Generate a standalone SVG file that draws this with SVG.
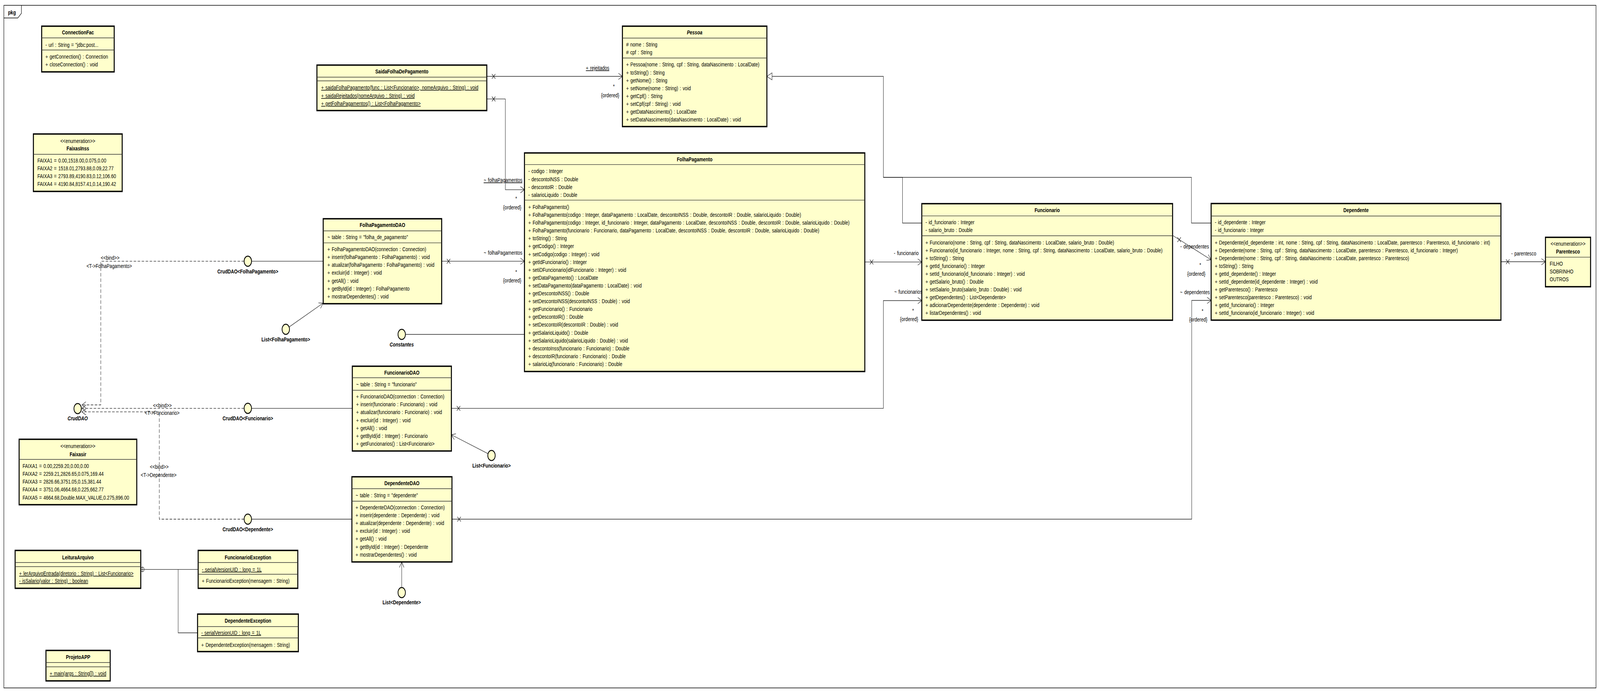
<svg xmlns="http://www.w3.org/2000/svg" xmlns:xlink="http://www.w3.org/1999/xlink" width="5604" height="1774" viewBox="0 0 5604 1774" preserveAspectRatio="none" style="width:100vw;height:100vh;display:block">
<style>
.box{fill:#FFFFCC;stroke:#000;stroke-width:3.5}
.sep{stroke:#333;stroke-width:1.3}
.t{font-family:"Liberation Sans",Arial,sans-serif;font-size:15.5px;word-spacing:1.5px;fill:#000}
.b{font-weight:bold}
.i{font-style:italic}
.c{text-anchor:middle}
.e{text-anchor:end}
.u{text-decoration:underline}
.ln{fill:none;stroke:#222;stroke-width:1.3}
.dash{stroke-dasharray:9 5}
.lol{fill:#FFFFCC;stroke:#000;stroke-width:2.5}
.frame{fill:none;stroke:#000;stroke-width:1.5}
</style>
<defs>
<marker id="arr" markerWidth="20" markerHeight="20" viewBox="-16 -10 20 20" refX="0" refY="0" orient="auto" markerUnits="userSpaceOnUse"><path d="M-14,-8 L0,0 L-14,8" fill="none" stroke="#222" stroke-width="1.3"/></marker>
<path id="xm" d="M-6,-6 L6,6 M-6,6 L6,-6" fill="none" stroke="#222" stroke-width="1.5"/>
</defs>
<rect x="0" y="0" width="5604" height="1774" fill="#fff"/>
<g id="frame">
<rect class="frame" x="13.5" y="13.6" width="5576.5" height="1747.4"/>
<path class="frame" d="M13.5,46 H62.5 L75,34 V13.6"/>
<text class="t b" x="28" y="37">pkg</text>
</g>

<g id="connectors">
<path class="ln" d="M1705,195.5 H2180" marker-end="url(#arr)"/>
<use xlink:href="#xm" x="1729" y="195.5"/>
<text class="t u" x="2052" y="179">+ rejeitados</text>
<text class="t" x="2147" y="226">*</text>
<text class="t e" x="2169" y="249">{ordered}</text>
<path class="ln" d="M1705,253.4 H1770 V485.6 H1837" marker-end="url(#arr)"/>
<use xlink:href="#xm" x="1729" y="253.4"/>
<text class="t u" x="1694" y="466">~ folhaPagamentos</text>
<text class="t" x="1805" y="513">*</text>
<text class="t e" x="1826" y="536">{ordered}</text>
<path class="ln" d="M1547,668.7 H1837" marker-end="url(#arr)"/>
<use xlink:href="#xm" x="1571" y="668.7"/>
<text class="t" x="1694" y="652">~ folhaPagamentos</text>
<text class="t" x="1805" y="701">*</text>
<text class="t e" x="1826" y="723">{ordered}</text>
<path class="ln" d="M1421,856 H1837"/>
<path class="ln" d="M881,668.7 H1132"/>
<path class="ln dash" d="M855,668.7 H353 V1036.5 H287" marker-end="url(#arr)"/>
<text class="t" x="353" y="665">&lt;&lt;bind&gt;&gt;</text>
<text class="t" x="303" y="686">&lt;T-&gt;FolhaPagamento&gt;</text>
<path class="ln" d="M1012.6,837.1 L1131.5,776" marker-end="url(#arr)"/>
<path class="ln" d="M881,1045.3 H1234"/>
<path class="ln dash" d="M855,1045.3 H287" marker-end="url(#arr)"/>
<text class="t" x="536" y="1043">&lt;&lt;bind&gt;&gt;</text>
<text class="t" x="507" y="1062">&lt;T-&gt;Funcionario&gt;</text>
<path class="ln" d="M1581,1045.3 H3094 V769.5 H3228.6" marker-end="url(#arr)"/>
<use xlink:href="#xm" x="1606" y="1045.3"/>
<text class="t" x="3132" y="752">~ funcionarios</text>
<text class="t" x="3195" y="800">*</text>
<text class="t e" x="3216" y="822">{ordered}</text>
<path class="ln" d="M1709.3,1161.4 L1581,1113" marker-end="url(#arr)"/>
<path class="ln" d="M881,1329 H1232.5"/>
<path class="ln dash" d="M855,1329 H558 V1054.4 H287" marker-end="url(#arr)"/>
<text class="t" x="525" y="1200">&lt;&lt;bind&gt;&gt;</text>
<text class="t" x="493" y="1221">&lt;T-&gt;Dependente&gt;</text>
<path class="ln" d="M1583,1329 H4174 V769 H4242" marker-end="url(#arr)"/>
<use xlink:href="#xm" x="1608" y="1329"/>
<text class="t" x="4133" y="752.7">~ dependentes</text>
<text class="t" x="4209" y="800.7">*</text>
<text class="t c" x="4197" y="822.7">{ordered}</text>
<path class="ln" d="M1407,1504 V1438.6" marker-end="url(#arr)"/>
<path class="ln" d="M3029,670.7 H3228.6" marker-end="url(#arr)"/>
<use xlink:href="#xm" x="3052.7" y="670.7"/>
<text class="t e" x="3217.6" y="653">- funcionario</text>
<path class="ln" d="M4108,603 L4241.7,665" marker-end="url(#arr)"/>
<use xlink:href="#xm" x="4130" y="613.5"/>
<text class="t" x="4134" y="635.7">- dependentes</text>
<text class="t" x="4201" y="683">*</text>
<text class="t c" x="4190" y="706">{ordered}</text>
<path class="ln" d="M5257,670 H5413" marker-end="url(#arr)"/>
<use xlink:href="#xm" x="5281" y="670"/>
<text class="t" x="5293" y="653.6">- parentesco</text>
<path class="ln" d="M3228.6,571 H3161 V454 H3094 V195.5 H2704"/>
<path class="ln" d="M4242,571 H4173 V454 H3094"/>
<polygon points="2686,195.5 2704,186.5 2704,204.5" fill="#fff" stroke="#222" stroke-width="1.3"/>
<path class="ln" d="M505,1457.6 H694 M624,1457.6 V1620 H692"/>
<circle cx="499" cy="1457.6" r="6" fill="#fff" stroke="#222" stroke-width="1.3"/>
<path class="ln" d="M493,1457.6 H505 M499,1451.6 V1463.6"/>
</g>

<g id="ConnectionFac">
<rect class="box" x="146" y="67" width="254" height="117"/>
<path class="sep" d="M146,97 H400 M146,128 H400"/>
<text class="t b c" x="273" y="88">ConnectionFac</text>
<text class="t" x="159" y="120">- url : String = "jdbc:post...</text>
<text class="t" x="159" y="150">+ getConnection() : Connection</text>
<text class="t" x="159" y="170">+ closeConnection() : void</text>
</g>

<g id="FaixasInss">
<rect class="box" x="117" y="343" width="311" height="147"/>
<path class="sep" d="M117,395 H428"/>
<text class="t c" x="272.5" y="366">&lt;&lt;enumeration&gt;&gt;</text>
<text class="t b c" x="272.5" y="385">FaixasInss</text>
<text class="t" x="131" y="416">FAIXA1 = 0.00,1518.00,0.075,0.00</text>
<text class="t" x="131" y="436">FAIXA2 = 1518.01,2793.88,0.09,22.77</text>
<text class="t" x="131" y="456">FAIXA3 = 2793.89,4190.83,0.12,106.60</text>
<text class="t" x="131" y="476">FAIXA4 = 4190.84,8157.41,0.14,190.42</text>
</g>

<g id="Faixasir">
<rect class="box" x="67" y="1124.5" width="412" height="167.5"/>
<path class="sep" d="M67,1176 H479"/>
<text class="t c" x="273" y="1147.5">&lt;&lt;enumeration&gt;&gt;</text>
<text class="t b c" x="273" y="1168">Faixasir</text>
<text class="t" x="79" y="1198">FAIXA1 = 0.00,2259.20,0.00,0.00</text>
<text class="t" x="79" y="1218">FAIXA2 = 2259.21,2826.65,0.075,169.44</text>
<text class="t" x="79" y="1238">FAIXA3 = 2826.66,3751.05,0.15,381.44</text>
<text class="t" x="79" y="1258">FAIXA4 = 3751.06,4664.68,0.225,662.77</text>
<text class="t" x="79" y="1279">FAIXA5 = 4664.68,Double.MAX_VALUE,0.275,896.00</text>
</g>

<g id="CrudDAO">
<circle class="lol" cx="272" cy="1046" r="13"/>
<text class="t b i c" x="272" y="1076">CrudDAO</text>
</g>

<g id="LeituraArquivo">
<rect class="box" x="53" y="1409" width="440" height="97"/>
<path class="sep" d="M53,1440 H493 M53,1450.5 H493"/>
<text class="t b c" x="273" y="1431.6">LeituraArquivo</text>
<text class="t u" x="67" y="1473">+ lerArquivoEntrada(diretorio : String) : List&lt;Funcionario&gt;</text>
<text class="t u" x="67" y="1492">- isSalario(valor : String) : boolean</text>
</g>

<g id="FuncionarioException">
<rect class="box" x="694" y="1409" width="349" height="97"/>
<path class="sep" d="M694,1440 H1043 M694,1470 H1043"/>
<text class="t b c" x="868.5" y="1431.6">FuncionarioException</text>
<text class="t u" x="707" y="1462.6">- serialVersionUID : long = 1L</text>
<text class="t" x="707" y="1492">+ FuncionarioException(mensagem : String)</text>
</g>

<g id="DependenteException">
<rect class="box" x="692" y="1572" width="353" height="96"/>
<path class="sep" d="M692,1604 H1045 M692,1633 H1045"/>
<text class="t b c" x="868.5" y="1594.5">DependenteException</text>
<text class="t u" x="705" y="1625">- serialVersionUID : long = 1L</text>
<text class="t" x="705" y="1656">+ DependenteException(mensagem : String)</text>
</g>

<g id="ProjetoAPP">
<rect class="box" x="161" y="1665" width="225" height="78"/>
<path class="sep" d="M161,1696 H386 M161,1707 H386"/>
<text class="t b c" x="273.5" y="1687">ProjetoAPP</text>
<text class="t u" x="174" y="1729">+ main(args : String[]) : void</text>
</g>

<g id="SaidaFolhaDePagamento">
<rect class="box" x="1110" y="166.6" width="595" height="116.4"/>
<path class="sep" d="M1110,197.5 H1705 M1110,207 H1705"/>
<text class="t b c" x="1407.5" y="188.3">SaidaFolhaDePagamento</text>
<text class="t u" x="1125" y="229">+ saidaFolhaPagamento(func : List&lt;Funcionario&gt;, nomeArquivo : String) : void</text>
<text class="t u" x="1125" y="250">+ saidaRejeitados(nomeArquivo : String) : void</text>
<text class="t u" x="1125" y="270">+ getFolhaPagamentos() : List&lt;FolhaPagamento&gt;</text>
</g>

<g id="CrudDAO_FolhaPagamento">
<circle class="lol" cx="868" cy="668.7" r="13"/>
<text class="t b c" x="868" y="699.7">CrudDAO&lt;FolhaPagamento&gt;</text>
</g>

<g id="List_FolhaPagamento">
<circle class="lol" cx="1001" cy="843" r="13"/>
<text class="t b c" x="1001" y="874">List&lt;FolhaPagamento&gt;</text>
</g>

<g id="FolhaPagamentoDAO">
<rect class="box" x="1132" y="560" width="415" height="217.5"/>
<path class="sep" d="M1132,591 H1547 M1132,621.6 H1547"/>
<text class="t b c" x="1339.5" y="581">FolhaPagamentoDAO</text>
<text class="t" x="1147" y="612.5">~ table : String = "folha_de_pagamento"</text>
<text class="t" x="1147" y="643">+ FolhaPagamentoDAO(connection : Connection)</text>
<text class="t" x="1147" y="663">+ inserir(folhaPagamento : FolhaPagamento) : void</text>
<text class="t" x="1147" y="683">+ atualizar(folhaPagamento : FolhaPagamento) : void</text>
<text class="t" x="1147" y="703.5">+ excluir(id : Integer) : void</text>
<text class="t" x="1147" y="724">+ getAll() : void</text>
<text class="t" x="1147" y="744">+ getById(id : Integer) : FolhaPagamento</text>
<text class="t" x="1147" y="764">+ mostrarDependentes() : void</text>
</g>

<g id="Constantes">
<circle class="lol" cx="1407" cy="856" r="13"/>
<text class="t b i c" x="1407" y="887">Constantes</text>
</g>

<g id="CrudDAO_Funcionario">
<circle class="lol" cx="868" cy="1045.3" r="13"/>
<text class="t b c" x="868" y="1076">CrudDAO&lt;Funcionario&gt;</text>
</g>

<g id="FuncionarioDAO">
<rect class="box" x="1234" y="937.5" width="347" height="217"/>
<path class="sep" d="M1234,967 H1581 M1234,999 H1581"/>
<text class="t b c" x="1407.5" y="959">FuncionarioDAO</text>
<text class="t" x="1247.5" y="989">~ table : String = "funcionario"</text>
<text class="t" x="1247.5" y="1020.5">+ FuncionarioDAO(connection : Connection)</text>
<text class="t" x="1247.5" y="1040">+ inserir(funcionario : Funcionario) : void</text>
<text class="t" x="1247.5" y="1060">+ atualizar(funcionario : Funcionario) : void</text>
<text class="t" x="1247.5" y="1081">+ excluir(id : Integer) : void</text>
<text class="t" x="1247.5" y="1101">+ getAll() : void</text>
<text class="t" x="1247.5" y="1121">+ getById(id : Integer) : Funcionario</text>
<text class="t" x="1247.5" y="1141">+ getFuncionarios() : List&lt;Funcionario&gt;</text>
</g>

<g id="List_Funcionario">
<circle class="lol" cx="1721.5" cy="1166" r="13"/>
<text class="t b c" x="1721.5" y="1197">List&lt;Funcionario&gt;</text>
</g>

<g id="CrudDAO_Dependente">
<circle class="lol" cx="868" cy="1329" r="13"/>
<text class="t b c" x="868" y="1360">CrudDAO&lt;Dependente&gt;</text>
</g>

<g id="DependenteDAO">
<rect class="box" x="1232.5" y="1220.5" width="350.5" height="218"/>
<path class="sep" d="M1232.5,1251 H1583 M1232.5,1283 H1583"/>
<text class="t b c" x="1407.75" y="1242">DependenteDAO</text>
<text class="t" x="1245.5" y="1273">~ table : String = "dependente"</text>
<text class="t" x="1245.5" y="1304.5">+ DependenteDAO(connection : Connection)</text>
<text class="t" x="1245.5" y="1324">+ inserir(dependente : Dependente) : void</text>
<text class="t" x="1245.5" y="1344">+ atualizar(dependente : Dependente) : void</text>
<text class="t" x="1245.5" y="1364">+ excluir(id : Integer) : void</text>
<text class="t" x="1245.5" y="1384.5">+ getAll() : void</text>
<text class="t" x="1245.5" y="1405">+ getById(id : Integer) : Dependente</text>
<text class="t" x="1245.5" y="1425">+ mostrarDependentes() : void</text>
</g>

<g id="List_Dependente">
<circle class="lol" cx="1407" cy="1517" r="13"/>
<text class="t b c" x="1407" y="1547">List&lt;Dependente&gt;</text>
</g>

<g id="Pessoa">
<rect class="box" x="2180" y="67" width="506" height="257"/>
<path class="sep" d="M2180,97.5 H2686 M2180,148.5 H2686"/>
<text class="t b i c" x="2433" y="88.4">Pessoa</text>
<text class="t" x="2193" y="119.5"># nome : String</text>
<text class="t" x="2193" y="139.4"># cpf : String</text>
<text class="t" x="2193" y="170.5">+ Pessoa(nome : String, cpf : String, dataNascimento : LocalDate)</text>
<text class="t" x="2193" y="190.6">+ toString() : String</text>
<text class="t" x="2193" y="210.7">+ getNome() : String</text>
<text class="t" x="2193" y="230.8">+ setNome(nome : String) : void</text>
<text class="t" x="2193" y="250.9">+ getCpf() : String</text>
<text class="t" x="2193" y="271">+ setCpf(cpf : String) : void</text>
<text class="t" x="2193" y="291.1">+ getDataNascimento() : LocalDate</text>
<text class="t" x="2193" y="311.2">+ setDataNascimento(dataNascimento : LocalDate) : void</text>
</g>

<g id="FolhaPagamento">
<rect class="box" x="1837" y="391.5" width="1192" height="559.5"/>
<path class="sep" d="M1837,421.4 H3029 M1837,512.3 H3029"/>
<text class="t b c" x="2433" y="413.5">FolhaPagamento</text>
<text class="t" x="1850.5" y="443.4">- codigo : Integer</text>
<text class="t" x="1850.5" y="463.7">- descontoINSS : Double</text>
<text class="t" x="1850.5" y="484">- descontoIR : Double</text>
<text class="t" x="1850.5" y="504.3">- salarioLiquido : Double</text>
<text class="t" x="1850.5" y="535">+ FolhaPagamento()</text>
<text class="t" x="1850.5" y="555.1">+ FolhaPagamento(codigo : Integer, dataPagamento : LocalDate, descontoINSS : Double, descontoIR : Double, salarioLiquido : Double)</text>
<text class="t" x="1850.5" y="575.2">+ FolhaPagamento(codigo : Integer, id_funcionario : Integer, dataPagamento : LocalDate, descontoINSS : Double, descontoIR : Double, salarioLiquido : Double)</text>
<text class="t" x="1850.5" y="595.3">+ FolhaPagamento(funcionario : Funcionario, dataPagamento : LocalDate, descontoINSS : Double, descontoIR : Double, salarioLiquido : Double)</text>
<text class="t" x="1850.5" y="615.4">+ toString() : String</text>
<text class="t" x="1850.5" y="635.5">+ getCodigo() : Integer</text>
<text class="t" x="1850.5" y="655.6">+ setCodigo(codigo : Integer) : void</text>
<text class="t" x="1850.5" y="675.7">+ getIdFuncionario() : Integer</text>
<text class="t" x="1850.5" y="695.8">+ setiDFuncionario(idFuncionario : Integer) : void</text>
<text class="t" x="1850.5" y="715.9">+ getDataPagamento() : LocalDate</text>
<text class="t" x="1850.5" y="736">+ setDataPagamento(dataPagamento : LocalDate) : void</text>
<text class="t" x="1850.5" y="756.1">+ getDescontoINSS() : Double</text>
<text class="t" x="1850.5" y="776.2">+ setDescontoINSS(descontoINSS : Double) : void</text>
<text class="t" x="1850.5" y="796.3">+ getFuncionario() : Funcionario</text>
<text class="t" x="1850.5" y="816.4">+ getDescontoIR() : Double</text>
<text class="t" x="1850.5" y="836.5">+ setDescontoIR(descontoIR : Double) : void</text>
<text class="t" x="1850.5" y="856.6">+ getSalarioLiquido() : Double</text>
<text class="t" x="1850.5" y="876.7">+ setSalarioLiquido(salarioLiquido : Double) : void</text>
<text class="t" x="1850.5" y="896.8">+ descontoInss(funcionario : Funcionario) : Double</text>
<text class="t" x="1850.5" y="916.9">+ descontoIR(funcionario : Funcionario) : Double</text>
<text class="t" x="1850.5" y="937">+ salarioLiq(funcionario : Funcionario) : Double</text>
</g>

<g id="Funcionario">
<rect class="box" x="3228.6" y="521.4" width="878.4" height="298.3"/>
<path class="sep" d="M3228.6,552.7 H4107 M3228.6,603.5 H4107"/>
<text class="t b c" x="3667.8" y="543">Funcionario</text>
<text class="t" x="3241.5" y="574.2">- id_funcionario : Integer</text>
<text class="t" x="3241.5" y="594.4">- salario_bruto : Double</text>
<text class="t" x="3241.5" y="625.6">+ Funcionario(nome : String, cpf : String, dataNascimento : LocalDate, salario_bruto : Double)</text>
<text class="t" x="3241.5" y="645.7">+ Funcionario(id_funcionario : Integer, nome : String, cpf : String, dataNascimento : LocalDate, salario_bruto : Double)</text>
<text class="t" x="3241.5" y="665.8">+ toString() : String</text>
<text class="t" x="3241.5" y="685.8">+ getId_funcionario() : Integer</text>
<text class="t" x="3241.5" y="705.9">+ setId_funcionario(id_funcionario : Integer) : void</text>
<text class="t" x="3241.5" y="726">+ getSalario_bruto() : Double</text>
<text class="t" x="3241.5" y="746.1">+ setSalario_bruto(salario_bruto : Double) : void</text>
<text class="t" x="3241.5" y="766.2">+ getDependentes() : List&lt;Dependente&gt;</text>
<text class="t" x="3241.5" y="786.2">+ adicionarDependente(dependente : Dependente) : void</text>
<text class="t" x="3241.5" y="806.3">+ listarDependentes() : void</text>
</g>

<g id="Dependente">
<rect class="box" x="4242" y="521" width="1015" height="298.5"/>
<path class="sep" d="M4242,553 H5257 M4242,604 H5257"/>
<text class="t b c" x="4749.5" y="543">Dependente</text>
<text class="t" x="4255" y="574">- id_dependente : Integer</text>
<text class="t" x="4255" y="594">- id_funcionario : Integer</text>
<text class="t" x="4255" y="625.6">+ Dependente(id_dependente : int, nome : String, cpf : String, dataNascimento : LocalDate, parentesco : Parentesco, id_funcionario : int)</text>
<text class="t" x="4255" y="645.6">+ Dependente(nome : String, cpf : String, dataNascimento : LocalDate, parentesco : Parentesco, id_funcionario : Integer)</text>
<text class="t" x="4255" y="665.7">+ Dependente(nome : String, cpf : String, dataNascimento : LocalDate, parentesco : Parentesco)</text>
<text class="t" x="4255" y="685.7">+ toString() : String</text>
<text class="t" x="4255" y="705.8">+ getId_dependente() : Integer</text>
<text class="t" x="4255" y="725.8">+ setId_dependente(id_dependente : Integer) : void</text>
<text class="t" x="4255" y="745.9">+ getParentesco() : Parentesco</text>
<text class="t" x="4255" y="765.9">+ setParentesco(parentesco : Parentesco) : void</text>
<text class="t" x="4255" y="786">+ getId_funcionario() : Integer</text>
<text class="t" x="4255" y="806">+ setId_funcionario(id_funcionario : Integer) : void</text>
</g>

<g id="Parentesco">
<rect class="box" x="5413" y="607.5" width="158" height="126.5"/>
<path class="sep" d="M5413,658.4 H5571"/>
<text class="t c" x="5492" y="629">&lt;&lt;enumeration&gt;&gt;</text>
<text class="t b c" x="5492" y="649">Parentesco</text>
<text class="t" x="5428" y="680">FILHO</text>
<text class="t" x="5428" y="700">SOBRINHO</text>
<text class="t" x="5428" y="719.6">OUTROS</text>
</g>
</svg>
